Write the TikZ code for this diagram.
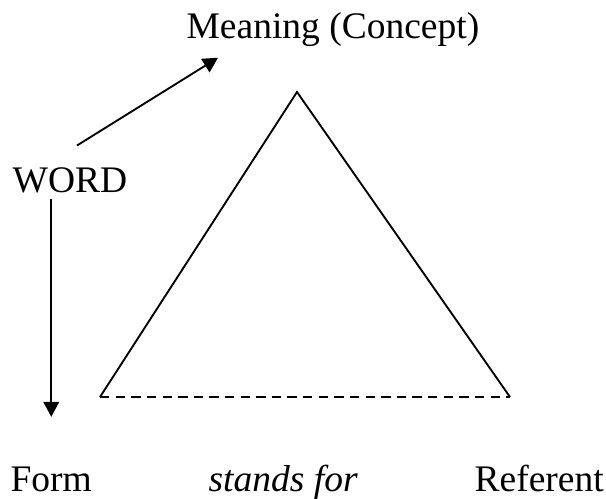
\documentclass[tikz,border=0pt]{standalone}
\usepackage{fontspec}
\setmainfont{Liberation Serif}
\usetikzlibrary{arrows.meta}

\tikzset{
  label/.style={anchor=base west,inner sep=0pt,font=\fontsize{12}{14}\selectfont},
  pointer/.style={line width=0.6pt,-{Triangle[length=4.8pt,width=5pt]}}
}

\begin{document}
\begin{tikzpicture}[x=0.32pt,y=-0.32pt]
\useasboundingbox (0,0) rectangle (606,498);

% Labels
\node[label] (meaning) at (186,38) {Meaning (Concept)};
\node[label] (word) at (12,192) {WORD};
\node[label] (form) at (10,491) {Form};
\node[label] (standsfor) at (208,491) {\itshape stands for};
\node[label] (referent) at (474,491) {Referent};

% Triangle
\coordinate (apex) at (297,92);
\coordinate (left) at (100,397);
\coordinate (right) at (510,397);
\draw[line width=0.6pt] (left) -- (apex) -- (right);
\draw[line width=0.6pt,dash pattern=on 3pt off 2pt] (left) -- (right);

% Arrows
\draw[pointer] ([shift={(7,-21)}]word.north) -- ([shift={(32,11)}]meaning.south west);
\draw[pointer] ([shift={(0,6)}]word.south -| form.south) -- ([shift={(0,-49)}]form.north);

\end{tikzpicture}
\end{document}
